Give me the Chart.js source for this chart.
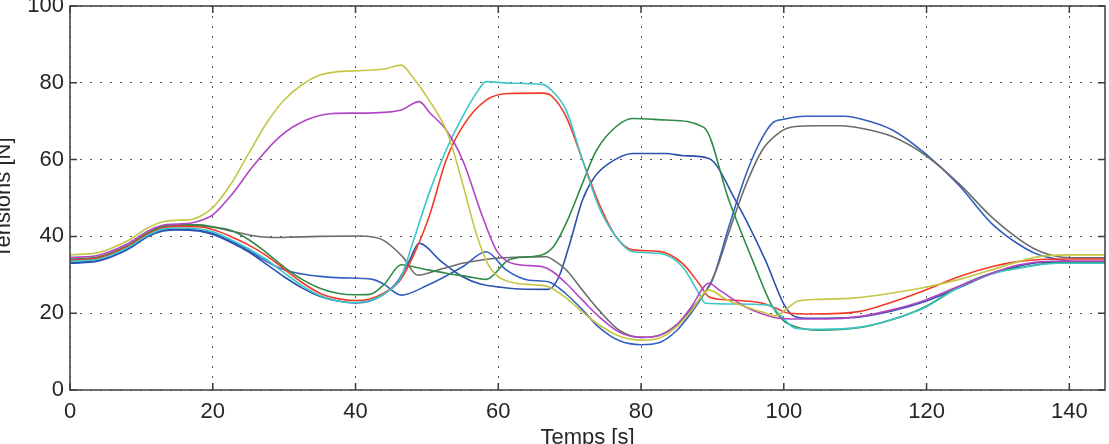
<!DOCTYPE html>
<html>
<head>
<meta charset="utf-8">
<script src="https://cdn.jsdelivr.net/npm/chart.js@4.4.0/dist/chart.umd.min.js"></script>
<style>
  html, body { margin: 0; padding: 0; background: #fff; overflow: hidden; }
  #wrap { position: absolute; left: -9px; top: 0; width: 1118px; height: 452px; }
</style>
</head>
<body>
<div id="wrap"><canvas id="tensions"></canvas></div>
<script>
// Axes
const xTicks = [0, 20, 40, 60, 80, 100, 120, 140];
const yTicks = [0, 20, 40, 60, 80, 100];

// Courbe jaune
const tJaune = [0,4,8,11,13,15,17,18.5,20,22.5,25,27.5,30,32.5,35,37.5,41,44,46.4,48,50.3,52.9,55,56.9,58.5,60,62.5,65,67,69.5,72,74.1,77,80,82.5,85,87,89.5,92,94.6,97,98.8,100.3,102,105,110,115,120,125,130,133,136,140,145];
const vJaune = [35.2,35.8,38.8,42.3,43.8,44.2,44.4,45.5,47.5,53.5,61.5,69.4,75.5,79.5,82,82.9,83.2,83.6,84.6,81.5,75.5,66.8,53.8,40.8,33,29.5,27.8,27.4,26.9,24,20,17,14,13,13.5,16.5,20.5,26,23.5,21.7,20.3,19.3,21,23.2,23.6,24,25.2,26.8,29,31.8,33.5,34.8,35.2,35.2];

// Courbe violette
const tViolet = [0,4,8,11,13,15,17,18.5,20,22.8,25.6,29.4,33.1,36.8,40,44,46.5,48.9,50.5,52.7,55,57.8,59.7,61,62.9,66.2,67.5,69.5,72,74.1,77,80,82.5,85,87,89.5,91,94.6,97,99.3,102,106,110.5,115,119.8,124.5,129.1,133,136.1,140,145];
const vViolet = [34.5,35.1,38,41.5,42.9,43.2,43.5,44.3,45.6,51.2,58.2,66,70.3,72,72.1,72.3,73,75.1,72,67.7,59.9,45.1,36.5,33.8,32.6,32.1,31,27.8,23,19.1,15,13.7,14.2,17,21.5,27.8,26,21.7,19.8,18.7,18.5,18.5,19.1,20.8,23.4,27,30.4,32.6,33.4,33.6,33.6];

// Courbe cyan
const tCyan = [0,4,8,11,13,15,18,20,22.5,25,27.5,30,32.5,35,37.5,40,42,44,46.4,48,50.3,52.7,55,57,58.3,61.5,66.2,67.5,69.5,71.8,74.1,76.5,78.8,82.5,85.8,88.1,89,93,97.9,99.5,101.6,105,110.5,115,119.8,124.5,129.1,133.8,138.5,145];
const vCyan = [33.5,34.1,37,40.4,41.9,42.2,42,41.2,39.2,36.8,34,30.5,27.2,24.6,23.2,22.8,23.3,25,29.5,38.2,51.2,62.5,71.2,77.5,80.3,79.9,79.6,78,72.9,59.9,47.7,39.9,36,35.6,32.1,25.2,22.6,22.4,22.1,19.5,16.1,15.8,16.3,18.3,21.5,26.7,30.2,32,33,33];

// Courbe rouge
const tRouge = [0,4,8,11,13,15,18,20,22.5,25,27.5,30,32.5,35,37.5,40,42,44,46,47.6,50.3,52.7,55,58.3,61.5,66.2,67.5,69.5,71.8,74.1,76.5,78.8,82.5,85.8,88.1,89.5,92,97,99,100.7,103.9,110.5,115,119.8,124.5,129.1,133,136.1,140,145];
const vRouge = [33.8,34.4,37.3,40.7,42.2,42.6,42.5,41.8,40,37.8,35,31.5,28,25.2,23.8,23.3,23.7,25.3,28,33,45.1,59.9,68.6,75.5,77.2,77.3,76.5,71.2,59.9,48.6,39.9,36.5,36.1,33,27.8,24.3,23.5,22.6,21.2,20,19.8,20.4,22.8,26,29.5,32.1,33.5,34,34.1,34.1];

// Courbe verte
const tVert = [0,4,8,11,13,15,18,20,22.5,25,27.5,30,32.5,35,37.5,40,42,44,46.4,49.5,52.7,55.5,58.3,61.5,64.3,66.2,67.8,69.5,71.8,73.5,75.5,78.8,83.5,88.8,92.3,95.6,98.4,100,101.6,104.9,110.5,115,119.8,124.5,129.1,133.8,138.5,145];
const vVert = [34,34.6,37.5,41,42.6,43,43,42.5,41.6,39.2,35.8,32,28.8,26.5,25.2,24.8,24.9,27.5,32.6,31.5,30.4,29.6,28.8,33.9,34.7,35.2,37.5,43.4,53.8,61.5,66.8,70.7,70.3,68.4,49.5,33.9,21.7,18,16.5,15.6,16.2,18.2,21.7,26.9,30.4,32.1,33.2,33.2];

// Courbe grise
const tGris = [0,4,8,11,13,15,18,20,21.9,24,26.6,29,31.2,35,40.6,43.8,46.6,48.7,52,55,59.7,63,66.7,68,69.5,72,74.1,77,80,82.5,85,87,89,90.5,92.3,94.6,97,99,100.7,104,108,111,115.2,119.8,124.5,129.1,133.8,136,138.5,141,145];
const vGris = [34,34.6,37.5,41,42.6,43,42.8,42.4,41.7,40.8,39.9,39.7,39.8,40,40.1,39.1,34.7,29.9,31.5,33,34.3,34.6,34.7,33.5,31.3,25.5,20.8,15.5,13.7,14.2,17,21,25.5,31,41,53,62.5,66.5,68.3,68.8,68.8,68.1,66,61.2,53.8,45.1,38.2,36,34.7,34.4,34.4];

// Courbe bleue 1
const tBleu1 = [0,4,8,11,13,15,18,20,22.5,25,27.5,30,32.5,35,37.5,40,42,44,45.7,47.5,48.9,52,55,57.5,59.7,63,67,68.5,70,71.8,73.5,75.5,78.8,83.5,86,89.5,93.2,97.4,100.2,101.6,104,110,115,120,125,129,133,136,140,145];
const vBleu1 = [33,33.6,36.5,40,41.4,41.7,41.4,40.5,38.5,36,32.8,29.5,26.6,24.4,23.2,22.7,23.2,25,27.8,33.5,38.2,33.5,29.5,27.6,26.9,26.3,26.2,29.5,38,49.5,55.5,59,61.6,61.6,61,60.3,49.5,33.9,21.7,19.1,18.7,18.9,20.5,23.2,27,30.2,32.3,33.2,33.3,33.3];

// Courbe bleue 2
const tBleu2 = [0,4,8,11,13,15,18,20,22.5,25,27.5,30,32.5,35,38,42.4,44,46.4,50,55,58.3,61.1,64.3,67,69.5,72,74,77,80,82.5,85,87,89,90,92.3,94.6,96.5,98.4,100,103,108.6,110.5,115.2,119.8,124.5,129.1,133.8,136,138.5,141,145];
const vBleu2 = [33.2,33.8,36.7,40.2,41.6,41.9,41.6,40.8,38.8,36.4,33.5,31.3,30.2,29.6,29.2,28.8,27.5,24.7,27.2,32.1,36,31.3,28.6,28.2,25,20.5,16.5,12.8,11.8,12.3,15.5,20,25.5,28.6,42.5,55.6,64,69.5,70.5,71.3,71.3,70.7,67.7,61.6,53.4,43.4,36.9,35,34,33.3,33.2];

function points(t, v) {
  return t.map((x, i) => ({ x: x, y: v[i] }));
}

function courbe(t, v, couleur) {
  return {
    data: points(t, v),
    borderColor: couleur,
    borderWidth: 1.6,
    pointRadius: 0,
    fill: false,
    cubicInterpolationMode: 'monotone'
  };
}

// cadre + graduations vers l'interieur (style matlab)
const cadre = {
  id: 'cadre',
  afterDatasetsDraw(chart) {
    const ctx = chart.ctx;
    const a = chart.chartArea;
    const sx = chart.scales.x;
    const sy = chart.scales.y;
    ctx.save();
    ctx.strokeStyle = '#3c3c3c';
    ctx.lineWidth = 1.5;
    ctx.strokeRect(a.left, a.top, a.right - a.left, a.bottom - a.top);
    ctx.beginPath();
    xTicks.forEach(v => {
      const px = sx.getPixelForValue(v);
      ctx.moveTo(px, a.bottom); ctx.lineTo(px, a.bottom - 7);
      ctx.moveTo(px, a.top); ctx.lineTo(px, a.top + 7);
    });
    yTicks.forEach(v => {
      const py = sy.getPixelForValue(v);
      ctx.moveTo(a.left, py); ctx.lineTo(a.left + 7, py);
      ctx.moveTo(a.right, py); ctx.lineTo(a.right - 7, py);
    });
    ctx.stroke();
    ctx.restore();
  }
};

Chart.defaults.font.family = '"Liberation Sans", Arial, Helvetica, sans-serif';
Chart.defaults.font.size = 22;
Chart.defaults.color = '#262626';

const tensions = document.getElementById('tensions');

new Chart(tensions, {
  type: 'line',
  data: {
    datasets: [
      courbe(tJaune, vJaune, '#c6c646'),
      courbe(tViolet, vViolet, '#b145c4'),
      courbe(tCyan, vCyan, '#3cc6c8'),
      courbe(tRouge, vRouge, '#f23a26'),
      courbe(tVert, vVert, '#2f8b48'),
      courbe(tGris, vGris, '#6c6c6c'),
      courbe(tBleu1, vBleu1, '#2b50ae'),
      courbe(tBleu2, vBleu2, '#3160c0')
    ]
  },
  options: {
    responsive: true,
    maintainAspectRatio: false,
    animation: false,
    layout: { padding: { top: 6, right: 4, bottom: 0, left: 0 } },
    plugins: {
      legend: { display: false },
      tooltip: { enabled: false }
    },
    scales: {
      x: {
        type: 'linear',
        min: 0,
        max: 145,
        afterBuildTicks: s => { s.ticks = xTicks.map(v => ({ value: v })); },
        afterFit: s => { s.height = 62; s.paddingLeft = 0; s.paddingRight = 0; },
        ticks: { padding: 9, maxRotation: 0, color: '#262626' },
        grid: { color: '#555', lineWidth: 1, drawTicks: false, borderDash: [2, 8] },
        border: { display: false, dash: [2, 8] },
        title: { display: true, text: 'Temps [s]', padding: { top: 0, bottom: 1 }, color: '#262626' }
      },
      y: {
        min: 0,
        max: 100,
        afterBuildTicks: s => { s.ticks = yTicks.map(v => ({ value: v })); },
        afterFit: s => { s.width = 79; s.paddingTop = 0; s.paddingBottom = 0; },
        ticks: { padding: 6, color: '#262626' },
        grid: { color: '#555', lineWidth: 1, drawTicks: false, borderDash: [2, 8] },
        border: { display: false, dash: [2, 8] },
        title: { display: true, text: 'Tensions [N]', padding: { top: 0, bottom: 0 }, color: '#262626' }
      }
    }
  },
  plugins: [cadre]
});
</script>
</body>
</html>
